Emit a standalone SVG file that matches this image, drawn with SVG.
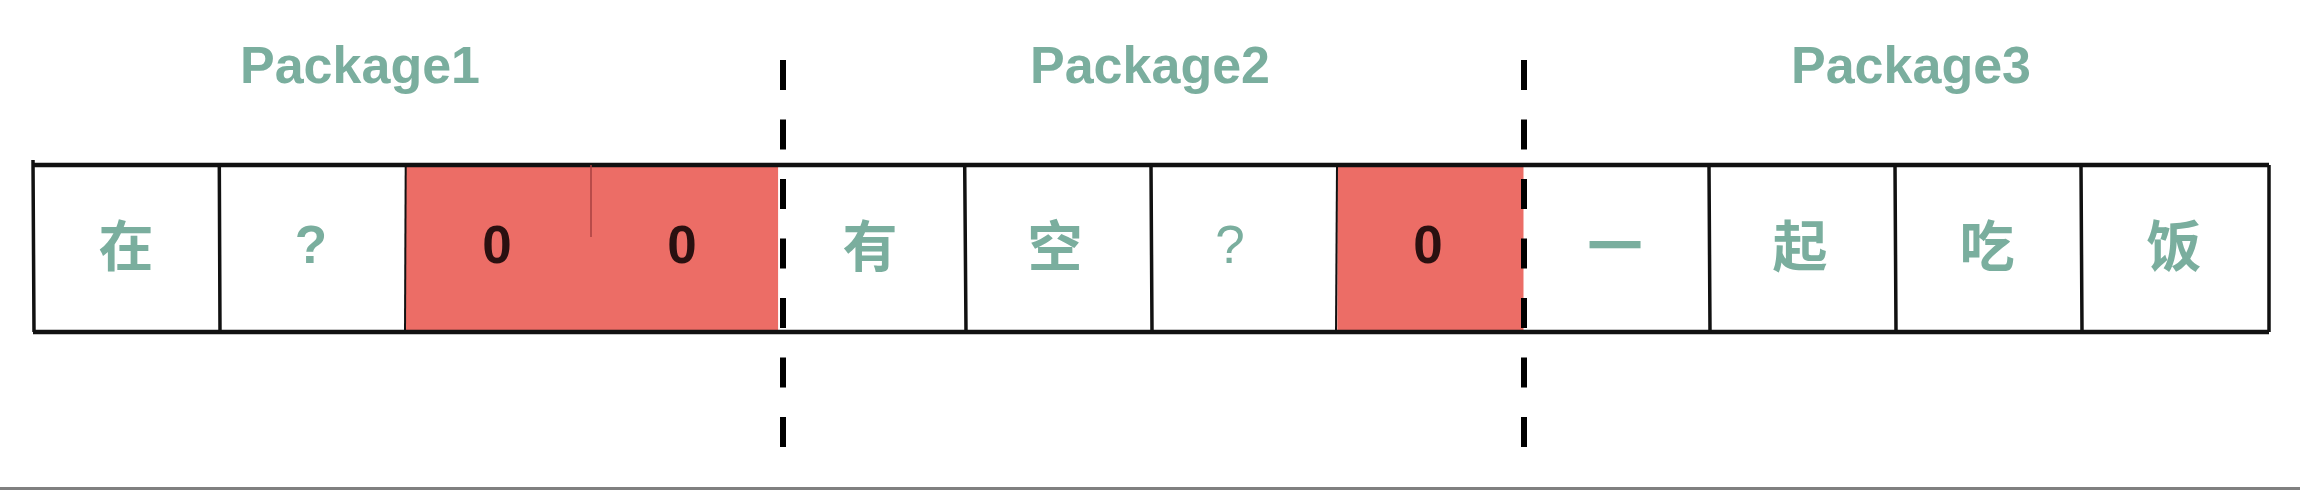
<svg xmlns="http://www.w3.org/2000/svg" width="2300" height="490" viewBox="0 0 2300 490">
<style>
.lbl{font-family:"Liberation Sans",Arial,sans-serif;font-weight:bold;font-size:52px;fill:#7aae9e;text-anchor:middle}
.cj{font-family:"Noto Sans CJK SC","Noto Sans",sans-serif;font-weight:bold;font-size:55px;fill:#7aae9e;text-anchor:middle}
.q{font-family:"Liberation Sans",Arial,sans-serif;font-weight:bold;font-size:53px;fill:#7aae9e;text-anchor:middle}
.z{font-family:"Liberation Sans",Arial,sans-serif;font-weight:bold;font-size:53px;fill:#2a1010;text-anchor:middle}
.cell{fill:#ffffff;stroke:none}
.red{fill:#ec6d66;stroke:none}
.div{stroke:#111;stroke-width:3.5;fill:none}
.sep{stroke:#000;stroke-width:6;stroke-dasharray:30 29.5;fill:none}
</style>
<rect x="0" y="0" width="2300" height="490" fill="#ffffff"/>
<g id="labels">
<text class="lbl" x="360" y="83">Package1</text>
<text class="lbl" x="1150" y="83">Package2</text>
<text class="lbl" x="1911" y="83">Package3</text>
</g>
<g id="cell1"><rect class="cell" x="33" y="165" width="186.3" height="167"/><text class="cj" x="126" y="266">在</text></g>
<g id="cell2"><rect class="cell" x="219.3" y="165" width="186.4" height="167"/><text class="q" x="311" y="263">?</text></g>
<g id="cell3"><rect class="red" x="405.7" y="165" width="186.3" height="167"/><text class="z" x="497" y="263">0</text></g>
<g id="cell4"><rect class="red" x="592" y="165" width="186.3" height="167"/><text class="z" x="682" y="263">0</text></g>
<g id="cell5"><rect class="cell" x="778.3" y="165" width="186.4" height="167"/><text class="cj" x="870" y="266">有</text></g>
<g id="cell6"><rect class="cell" x="964.7" y="165" width="186.3" height="167"/><text class="cj" x="1055" y="266">空</text></g>
<g id="cell7"><rect class="cell" x="1151" y="165" width="186.3" height="167"/><text class="q" x="1230" y="263" style="font-weight:normal">?</text></g>
<g id="cell8"><rect class="red" x="1337.3" y="165" width="186.4" height="167"/><text class="z" x="1428" y="263">0</text></g>
<g id="cell9"><rect class="cell" x="1523.7" y="165" width="186.3" height="167"/><text class="cj" x="1615" y="266">一</text></g>
<g id="cell10"><rect class="cell" x="1710" y="165" width="186.3" height="167"/><text class="cj" x="1800" y="266">起</text></g>
<g id="cell11"><rect class="cell" x="1896.3" y="165" width="186.4" height="167"/><text class="cj" x="1987" y="266">吃</text></g>
<g id="cell12"><rect class="cell" x="2082.7" y="165" width="186.3" height="167"/><text class="cj" x="2174" y="266">饭</text></g>
<g id="connectors">
<path class="div" d="M33,165 H2269 M33,332 H2269" style="stroke-width:4.5"/>
<path class="div" d="M33,160 L34,332 M219.3,165 L220,332 M964.7,165 L966,332 M1151,165 L1152,332 M1709,165 L1710,332 M1895,165 L1896,332 M2081,165 L2082,332 M2269,165 L2269,332"/>
<path class="div" d="M405.7,165 L405,332" style="stroke-width:2"/>
<path d="M591,165 L591,237" stroke="#a84040" stroke-width="1.5" fill="none"/>
<path class="div" d="M1337,165 L1336,332" style="stroke-width:2"/>
<path class="sep" d="M783,60 V448"/>
<path class="sep" d="M1524,60 V448"/>
</g>
<rect x="0" y="487" width="2300" height="3" fill="#808080"/>
</svg>
